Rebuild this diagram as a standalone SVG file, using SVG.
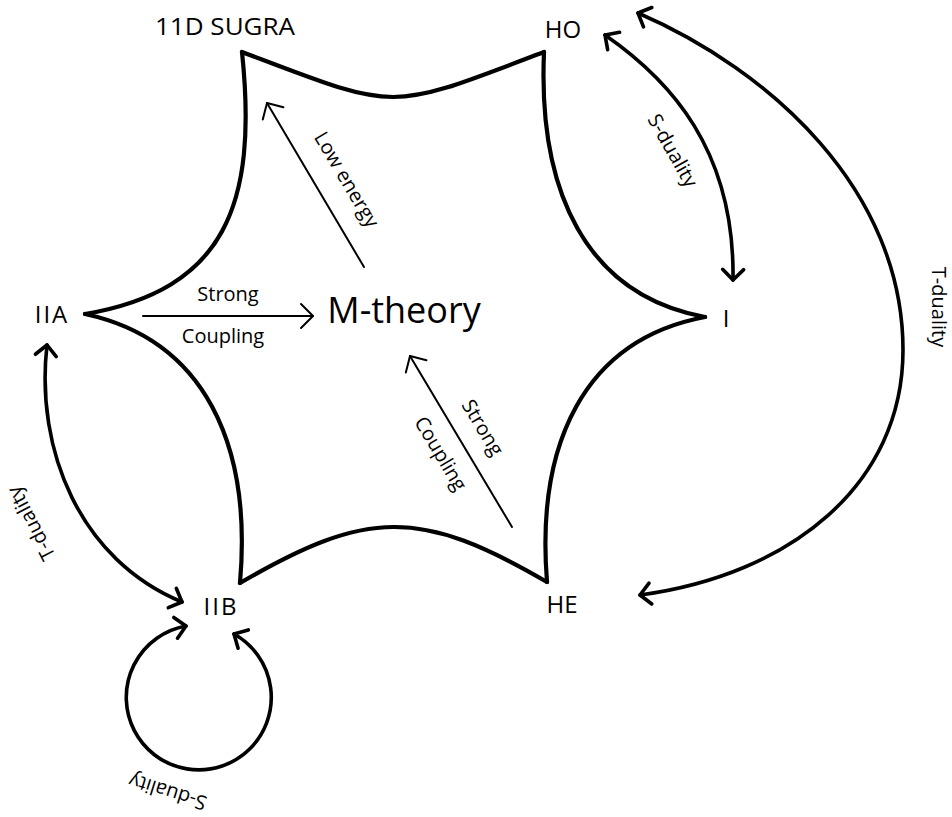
<svg xmlns="http://www.w3.org/2000/svg" width="952" height="817" viewBox="0 0 952 817">
<style>
.lbl{font-family:"Open Sans","Liberation Sans",sans-serif;fill:#000;text-anchor:middle}
.node{font-size:24px}
.edge{font-size:20px}
.big{font-size:36px}
.hex{fill:none;stroke:#000;stroke-width:4.2;stroke-linecap:round;stroke-linejoin:round}
.dual{fill:none;stroke:#000;stroke-width:3.6;stroke-linecap:round;marker-start:url(#ah);marker-end:url(#ah)}
.thin{fill:none;stroke:#000;stroke-width:2;stroke-linecap:round;marker-end:url(#ahs)}
</style>
<defs>
<marker id="ah" markerUnits="userSpaceOnUse" orient="auto-start-reverse" refX="0" refY="0" markerWidth="30" markerHeight="30" viewBox="-15 -15 30 30" overflow="visible">
<path d="M-10.5,-10.5 L0,0 L-10.5,10.5" fill="none" stroke="#000" stroke-width="3.6" stroke-linecap="round" stroke-linejoin="round"/>
</marker>
<marker id="ahs" markerUnits="userSpaceOnUse" orient="auto" refX="0" refY="0" markerWidth="30" markerHeight="30" viewBox="-15 -15 30 30" overflow="visible">
<path d="M-12,-12 L0,0 L-12,12" fill="none" stroke="#000" stroke-width="2" stroke-linecap="round" stroke-linejoin="round"/>
</marker>
</defs>
<rect width="952" height="817" fill="#fff"/>
<g id="connectors">
<path class="hex" d="M242,52 C400,112 386,112 544,52"/>
<path class="hex" d="M85,314 C225,290 258,205 242,52"/>
<path class="hex" d="M544,52 C538,190 585,295 705,317"/>
<path class="hex" d="M705,317 C583,340 536,445 547,582"/>
<path class="hex" d="M547,582 C420,508 367,509 240,583"/>
<path class="hex" d="M240,583 C252,445 205,340 85,314"/>
<path class="dual" d="M605,35 C670,80 735,150 733,280"/>
<path class="dual" d="M638,13 C770,70 903,190 903,350 C903,485 790,575 640,595"/>
<path class="dual" d="M47,345 C35,450 80,560 182,602"/>
<path class="dual" d="M186,626 A72.5,72.5 0 1 0 234,634"/>
<path class="thin" d="M143,316 H313"/>
<path class="thin" d="M364,267 L267,103"/>
<path class="thin" d="M512,527 L410,356"/>
<text class="lbl edge" x="228" y="301">Strong</text>
<text class="lbl edge" x="223" y="343">Coupling</text>
<text class="lbl edge" transform="translate(346,180) rotate(59.4)" x="0" y="6">Low energy</text>
<text class="lbl edge" transform="translate(482,428) rotate(59.2)" x="0" y="6">Strong</text>
<text class="lbl edge" transform="translate(440,454) rotate(59.2)" x="0" y="6">Coupling</text>
<text class="lbl edge" transform="translate(672,151) rotate(60.5)" x="0" y="6">S-duality</text>
<text class="lbl edge" transform="translate(938,307) rotate(90)" x="0" y="6">T-duality</text>
<text class="lbl edge" transform="translate(32,523) rotate(-117.6)" x="0" y="6">T-duality</text>
<text class="lbl edge" transform="translate(168,791) rotate(197.5)" x="0" y="6">S-duality</text>
</g>
<g id="node-11d"><text class="lbl node" x="225" y="35" textLength="140" lengthAdjust="spacingAndGlyphs">11D SUGRA</text></g>
<g id="node-ho"><text class="lbl node" x="563" y="38">HO</text></g>
<g id="node-i"><text class="lbl node" x="726" y="327">I</text></g>
<g id="node-he"><text class="lbl node" x="562" y="613">HE</text></g>
<g id="node-iib"><text class="lbl node" x="221" y="615" letter-spacing="2">IIB</text></g>
<g id="node-iia"><text class="lbl node" x="52" y="323" letter-spacing="2">IIA</text></g>
<g id="node-m"><text class="lbl big" x="404" y="323">M-theory</text></g>
</svg>
